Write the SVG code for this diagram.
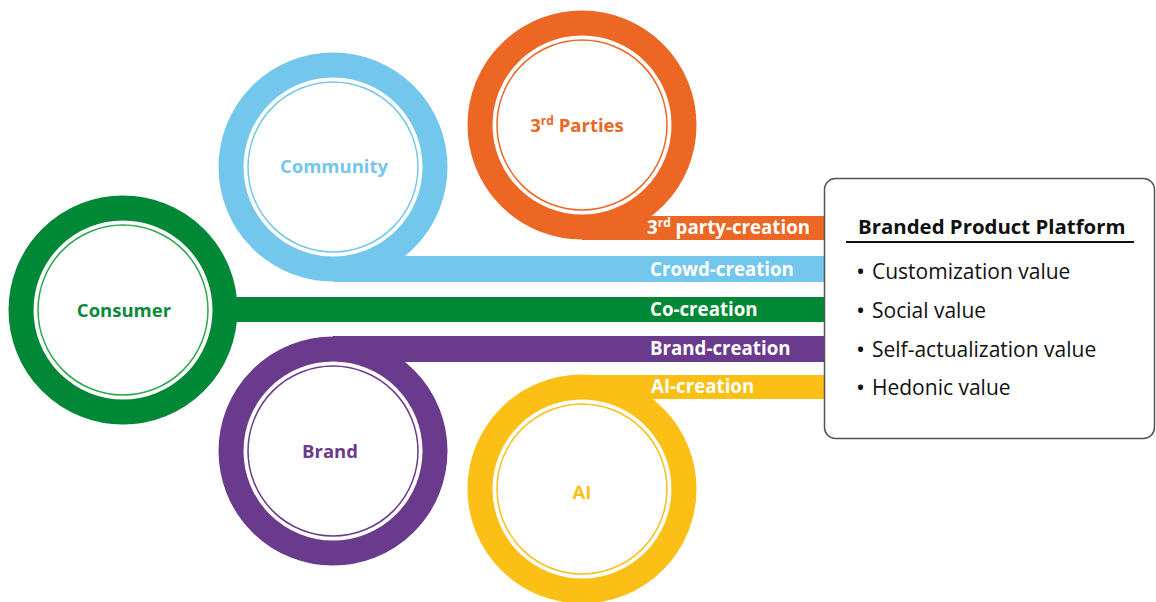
<svg xmlns="http://www.w3.org/2000/svg" width="1156" height="602" viewBox="0 0 1156 602">
<style>
.ring{fill:#fff;stroke-width:25}
.thin{fill:none;stroke-width:1.5}
.nl{font-family:"Open Sans","Noto Sans",sans-serif;font-weight:bold;font-size:18.5px;text-anchor:middle}
.bl{font-family:"Open Sans","Noto Sans",sans-serif;font-weight:bold;font-size:18.7px;fill:#fff}
.bt{font-family:"Open Sans","Noto Sans",sans-serif;font-size:21px;fill:#111}
.bu{font-family:"Open Sans","Noto Sans",sans-serif;font-size:24px;fill:#111}
</style>
<g id="connectors">
<rect x="582" y="216" width="243" height="24" fill="#EC6624"/>
<rect x="333" y="256" width="492" height="26" fill="#74C7EC"/>
<rect x="223" y="297" width="602" height="25" fill="#008837"/>
<rect x="333" y="336" width="492" height="26" fill="#6A3A8C"/>
<rect x="582" y="375" width="243" height="24" fill="#FBBF15"/>
</g>
<g id="node-3rd-parties">
<circle class="ring" cx="582" cy="125" r="102" stroke="#EC6624"/>
<circle class="thin" cx="582" cy="125" r="85" stroke="#EC6624"/>
<text class="nl" x="577" y="132" fill="#EC6624">3<tspan font-size="12" dy="-7">rd</tspan><tspan dy="7"> Parties</tspan></text>
</g>
<g id="node-community">
<circle class="ring" cx="333" cy="167" r="102" stroke="#74C7EC"/>
<circle class="thin" cx="333" cy="167" r="85" stroke="#74C7EC"/>
<text class="nl" x="334" y="173" fill="#74C7EC">Community</text>
</g>
<g id="node-consumer">
<circle class="ring" cx="123" cy="310" r="102" stroke="#008837"/>
<circle class="thin" cx="123" cy="310" r="85" stroke="#2BA84A"/>
<text class="nl" x="124" y="317" fill="#0B8A3B">Consumer</text>
</g>
<g id="node-brand">
<circle class="ring" cx="333" cy="451" r="102" stroke="#6A3A8C"/>
<circle class="thin" cx="333" cy="451" r="85" stroke="#6A3A8C"/>
<text class="nl" x="330" y="458" fill="#6A3A8C">Brand</text>
</g>
<g id="node-ai">
<circle class="ring" cx="582" cy="489" r="102" stroke="#FBBF15"/>
<circle class="thin" cx="582" cy="489" r="85" stroke="#FBBF15"/>
<text class="nl" x="582" y="499" fill="#FBBF15">AI</text>
</g>
<g id="bar-labels">
<text class="bl" x="647" y="234">3<tspan font-size="12" dy="-7">rd</tspan><tspan dy="7"> party-creation</tspan></text>
<text class="bl" x="650" y="276">Crowd-creation</text>
<text class="bl" x="650" y="316">Co-creation</text>
<text class="bl" x="650" y="355">Brand-creation</text>
<text class="bl" x="651" y="393">AI-creation</text>
</g>
<g id="node-platform">
<rect x="824.5" y="178.5" width="330" height="260" rx="11" fill="#fff" stroke="#555" stroke-width="1.5"/>
<text x="858" y="234" font-family="Open Sans, Noto Sans, sans-serif" font-weight="bold" font-size="20.4" fill="#111">Branded Product Platform</text>
<line x1="846" y1="242" x2="1134" y2="242" stroke="#111" stroke-width="2"/>
<text class="bu" x="856" y="280">•</text><text class="bt" x="872" y="279">Customization value</text>
<text class="bu" x="856" y="319">•</text><text class="bt" x="872" y="318">Social value</text>
<text class="bu" x="856" y="358">•</text><text class="bt" x="872" y="357">Self-actualization value</text>
<text class="bu" x="856" y="396">•</text><text class="bt" x="872" y="395">Hedonic value</text>
</g>
</svg>
